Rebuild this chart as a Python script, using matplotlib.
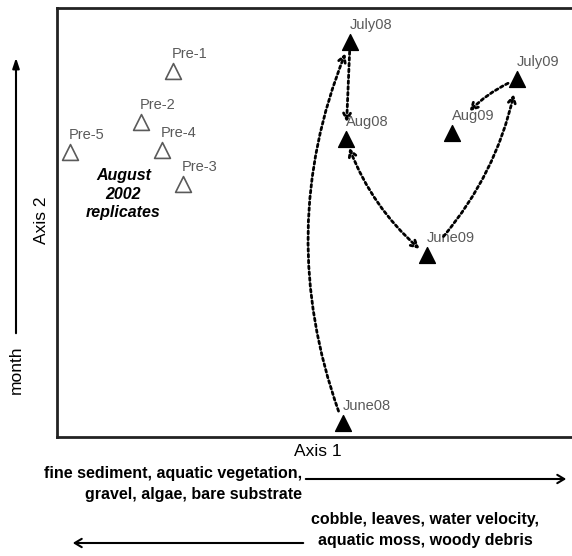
import matplotlib.pyplot as plt

plt.rcParams['font.family'] = ['Liberation Sans', 'DejaVu Sans']

# Ordination scores (arbitrary units)
pre_names = ['Pre-1', 'Pre-2', 'Pre-3', 'Pre-4', 'Pre-5']
pre_x = [22.5, 16.3, 24.5, 20.4, 2.5]
pre_y = [85.3, 73.4, 59.0, 66.9, 66.4]

month_names = ['June08', 'July08', 'Aug08', 'June09', 'July09', 'Aug09']
month_x = [55.5, 56.9, 56.1, 71.8, 89.3, 76.7]
month_y = [3.3, 92.1, 69.5, 42.4, 83.4, 70.9]

# trajectory: (from, to, style, curvature, shrink start, shrink end)
steps = [
    ('June08', 'July08', '->', -0.2, 9, 9),
    ('July08', 'Aug08', '->', 0.0, 7, 12),
    ('Aug08', 'June09', '<->', 0.14, 7, 7),
    ('June09', 'July09', '->', 0.15, 18, 11),
    ('July09', 'Aug09', '->', 0.15, 7, 20),
]

GREY = '#5a5a5a'

fig = plt.figure(figsize=(5.72, 5.56), dpi=100)
ax = fig.add_axes([0.0997, 0.214, 0.9003, 0.7716])
ax.set_xlim(0, 100)
ax.set_ylim(0, 100)
ax.set_xticks([])
ax.set_yticks([])
ax.spines['right'].set_visible(False)
for s in ['left', 'top', 'bottom']:
    ax.spines[s].set_linewidth(2)
    ax.spines[s].set_color('#222222')

ax.scatter(pre_x, pre_y, marker='^', s=130, facecolor='white',
           edgecolor=GREY, linewidth=1.2, zorder=3)
for n, x, y in zip(pre_names, pre_x, pre_y):
    ax.annotate(n, (x, y), xytext=(-1, 7), textcoords='offset points',
                ha='left', va='bottom', fontsize=10.5, color=GREY)

ax.scatter(month_x, month_y, marker='^', s=130, facecolor='black',
           edgecolor='black', zorder=3)
for n, x, y in zip(month_names, month_x, month_y):
    ax.annotate(n, (x, y), xytext=(0, 7), textcoords='offset points',
                ha='left', va='bottom', fontsize=10.5, color=GREY)

pos = {n: (x, y) for n, x, y in zip(month_names, month_x, month_y)}
for a, b, style, rad, sa, sb in steps:
    ax.annotate('', xy=pos[b], xytext=pos[a],
                arrowprops=dict(arrowstyle=style + ',head_length=0.45,head_width=0.25',
                                linestyle=(0, (1, 1.1)), lw=2, color='black',
                                shrinkA=sa, shrinkB=sb,
                                connectionstyle=f'arc3,rad={rad}'))

ax.text(12.9, 56.6, 'August\n2002\nreplicates', ha='center', va='center',
        fontsize=11.5, fontweight='bold', fontstyle='italic', linespacing=1.3)

# axis labels and gradient arrows
fig.text(318 / 572, 1 - 452 / 556, 'Axis 1', ha='center', va='center', fontsize=12.5)
fig.text(42 / 572, 1 - 220 / 556, 'Axis 2', ha='center', va='center',
         rotation=90, fontsize=12.5)
fig.text(16 / 572, 1 - 370 / 556, 'month', ha='center', va='center',
         rotation=90, fontsize=12.5)
plt.annotate('', xy=(16 / 572, 1 - 55 / 556), xytext=(16 / 572, 1 - 336 / 556),
             xycoords='figure fraction',
             arrowprops=dict(arrowstyle='-|>,head_length=0.6,head_width=0.2',
                             lw=1.5, color='black'))

fig.text(302 / 572, 1 - 466 / 556,
         'fine sediment, aquatic vegetation,\ngravel, algae, bare substrate',
         ha='right', va='top', fontsize=11.5, fontweight='bold', linespacing=1.5)
plt.annotate('', xy=(569 / 572, 1 - 479 / 556), xytext=(303 / 572, 1 - 479 / 556),
             xycoords='figure fraction',
             arrowprops=dict(arrowstyle='->,head_length=0.5,head_width=0.3',
                             lw=1.5, color='black'))

fig.text(425 / 572, 1 - 512 / 556,
         'cobble, leaves, water velocity,\naquatic moss, woody debris',
         ha='center', va='top', fontsize=11.5, fontweight='bold', linespacing=1.5)
plt.annotate('', xy=(70 / 572, 1 - 543 / 556), xytext=(306 / 572, 1 - 543 / 556),
             xycoords='figure fraction',
             arrowprops=dict(arrowstyle='->,head_length=0.5,head_width=0.3',
                             lw=1.5, color='black'))

fig.savefig('out.png', dpi=100)
